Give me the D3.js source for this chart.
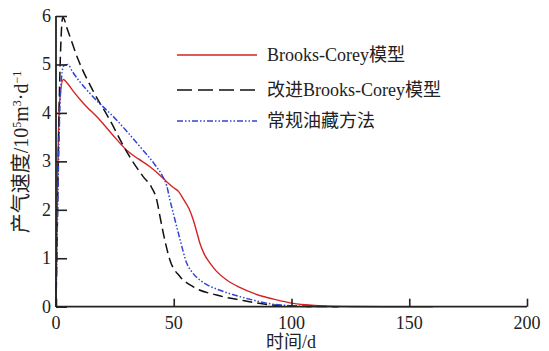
<!DOCTYPE html>
<head>
  <meta charset="utf-8" />
  <script src="https://d3js.org/d3.v7.min.js"></script>
  <style>
    body { margin: 0; background: #fff; }
    text { font-family: "Liberation Serif", "Noto Sans CJK SC", serif; fill: #222; }
  </style>
</head>
<body>
<script>
  // 时间 (d) / 产气速度 (10^5 m3/d)
  var brooksCorey = [[0,0],[0.5,2.0],[1.5,4.2],[3.1,4.69],[5,4.6],[7.3,4.45],[11.6,4.2],[18.7,3.85],[24,3.55],
    [30,3.23],[35,3.05],[39.9,2.89],[44,2.72],[47,2.58],[49.8,2.46],[52,2.38],[54.1,2.22],[56.5,2.02],
    [58.3,1.79],[60,1.5],[61.1,1.31],[63,1.08],[65.4,0.9],[68,0.74],[72.5,0.55],[78,0.4],[83.8,0.28],
    [88,0.21],[93.7,0.14],[99.4,0.08],[106,0.04],[113.5,0.015],[125,0.005],[140,0],[160,0]];
  var improvedBC = [[0,0],[0.5,1.5],[1.5,4.5],[2.9,5.97],[5,5.7],[9.5,5.09],[15.8,4.45],[22.9,3.85],[30,3.2],
    [37.1,2.68],[40.5,2.47],[42.8,2.2],[44.2,1.85],[45.6,1.51],[48.4,0.96],[52.7,0.62],[58.3,0.41],
    [68.2,0.24],[78.1,0.14],[90.9,0.04],[105,0.01],[120,0]];
  var conventional = [[0,0],[0.5,1.5],[2,4.5],[3.2,4.97],[5,5.0],[7,4.85],[10,4.65],[15.8,4.33],[25.8,3.85],
    [35.7,3.3],[42,2.93],[45.6,2.66],[47,2.5],[48.4,2.2],[49.8,1.93],[52.7,1.38],[55.5,0.9],[58,0.7],
    [61.1,0.55],[65,0.43],[69.6,0.34],[75,0.25],[81,0.17],[86,0.11],[92.3,0.05],[100,0.02],[108,0]];

  var xTicks = [0, 50, 100, 150, 200];
  var yTicks = [0, 1, 2, 3, 4, 5, 6];
  var seriesNames = ["Brooks-Corey模型", "改进Brooks-Corey模型", "常规油藏方法"];
  var seriesColors = ["#d42424", "#111111", "#2f45d6"];
  var seriesDash = [null, "10,5", "6,2,1.5,2,1.5,2"];
  var seriesData = [brooksCorey, improvedBC, conventional];

  var width = 549, height = 351;
  var svg = d3.select("body").append("svg").attr("width", width).attr("height", height);

  var x = d3.scaleLinear().domain([0, 200]).range([56, 527]);
  var y = d3.scaleLinear().domain([0, 6]).range([306.7, 16]);

  var line = d3.line().x(d => x(d[0])).y(d => y(d[1])).curve(d3.curveMonotoneX);

  // courbes
  svg.selectAll("path.curve")
    .data(seriesData)
    .join("path")
    .attr("class", "curve")
    .attr("d", line)
    .attr("fill", "none")
    .attr("stroke", (d, i) => seriesColors[i])
    .attr("stroke-width", (d, i) => i == 0 ? 1.4 : 1.5)
    .attr("stroke-dasharray", (d, i) => seriesDash[i]);

  // axes, ticks vers l'interieur
  svg.append("g").attr("transform", "translate(0," + y(0) + ")")
    .call(d3.axisTop(x).tickValues(xTicks).tickSize(8).tickFormat(""));
  svg.append("g").attr("transform", "translate(" + x(0) + ",0)")
    .call(d3.axisRight(y).tickValues(yTicks).tickSize(11).tickFormat(""));
  svg.selectAll(".domain").remove();
  svg.selectAll(".tick line").attr("stroke", "#222").attr("stroke-width", 1.6);
  svg.append("line").attr("x1", x(0)).attr("x2", x(200)).attr("y1", y(0)).attr("y2", y(0))
    .attr("stroke", "#222").attr("stroke-width", 1.8);
  svg.append("line").attr("x1", x(0)).attr("x2", x(0)).attr("y1", y(0)).attr("y2", y(6))
    .attr("stroke", "#222").attr("stroke-width", 1.8);

  svg.selectAll("text.xt").data(xTicks).join("text")
    .attr("class", "xt").attr("x", d => x(d)).attr("y", y(0) + 22)
    .attr("text-anchor", "middle").style("font-size", "18px").text(d => d);
  svg.selectAll("text.yt").data(yTicks).join("text")
    .attr("class", "yt").attr("x", x(0) - 5).attr("y", d => y(d) + 6)
    .attr("text-anchor", "end").style("font-size", "18px").text(d => d);

  svg.append("text").attr("x", 291).attr("y", 348).attr("text-anchor", "middle")
    .style("font-size", "18px").text("时间/d");

  var yl = svg.append("text").attr("transform", "translate(28,152) rotate(-90)")
    .attr("text-anchor", "middle").style("font-size", "20px");
  yl.append("tspan").text("产气速度/10");
  yl.append("tspan").attr("dy", -7).style("font-size", "12px").text("5");
  yl.append("tspan").attr("dy", 7).text("m");
  yl.append("tspan").attr("dy", -7).style("font-size", "12px").text("3");
  yl.append("tspan").attr("dy", 7).text("·d");
  yl.append("tspan").attr("dy", -7).style("font-size", "12px").text("−1");

  // legende
  var leg = svg.selectAll("g.leg").data(seriesNames).join("g")
    .attr("class", "leg").attr("transform", (d, i) => "translate(177," + [55, 90, 121][i] + ")");
  leg.append("line").attr("x1", 0).attr("x2", 80)
    .attr("stroke", (d, i) => seriesColors[i])
    .attr("stroke-width", 1.5)
    .attr("stroke-dasharray", (d, i) => i == 1 ? "15,6" : seriesDash[i]);
  leg.append("text").attr("x", 90).attr("y", 6).style("font-size", "18px").text(d => d);
</script>
</body>
